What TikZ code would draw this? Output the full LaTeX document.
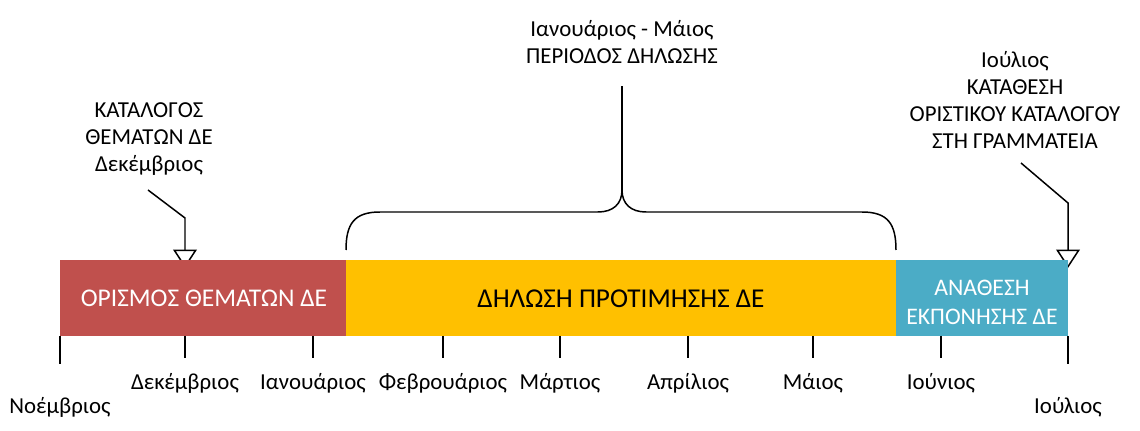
\documentclass[tikz,border=0pt]{standalone}
\usepackage{fontspec}
\setmainfont{Carlito}
\usetikzlibrary{arrows.meta}
\definecolor{orismos}{HTML}{C0504D}
\definecolor{dilosi}{HTML}{FFC000}
\definecolor{anathesi}{HTML}{4BACC6}
\tikzset{
  phase/.style={draw=none, minimum height=76*0.2mm, inner sep=0pt, font=\fontsize{14.5}{17}\selectfont},
  month/.style={font=\fontsize{13}{15.5}\selectfont},
  note/.style={align=center, font=\fontsize{13}{15.5}\selectfont},
  callout/.style={line width=0.85pt, -{Triangle[open, width=13.5pt, length=10.5pt]}},
  tick/.style={line width=0.85pt}
}
\begin{document}
\begin{tikzpicture}[x=0.2mm, y=-0.2mm, >=Stealth]
\useasboundingbox (0,0) rectangle (1140,431);
% callouts (drawn first, the bar covers the tips)
\node[note] (katalogos) at (149,139) {ΚΑΤΑΛΟΓΟΣ\\ΘΕΜΑΤΩΝ ΔΕ\\Δεκέμβριος};
\coordinate (k1) at (185,218);
\coordinate (k2) at (185,268);
\draw[callout] (148,190) -- (k1) -- (k2);
\node[note] (katathesi) at (1015,100) {Ιούλιος\\ΚΑΤΑΘΕΣΗ\\ΟΡΙΣΤΙΚΟΥ ΚΑΤΑΛΟΓΟΥ\\ΣΤΗ ΓΡΑΜΜΑΤΕΙΑ};
\coordinate (t1) at (1068,203);
\coordinate (t2) at (1068,268);
\draw[callout] (1021,163) -- (t1) -- (t2);
% the three phases
\fill[orismos] (60,260) rectangle (346,336);
\fill[dilosi] (346,260) rectangle (896,336);
\fill[anathesi] (896,260) rectangle (1068,336);
\node[phase, text=white] (p1) at (204,298) {ΟΡΙΣΜΟΣ ΘΕΜΑΤΩΝ ΔΕ};
\node[phase, font=\fontsize{15.5}{18}\selectfont] (p2) at (621,299) {ΔΗΛΩΣΗ ΠΡΟΤΙΜΗΣΗΣ ΔΕ};
\node[phase, text=white, align=center, font=\fontsize{13.5}{16.5}\selectfont] (p3) at (982,302) {ΑΝΑΘΕΣΗ\\ΕΚΠΟΝΗΣΗΣ ΔΕ};
% brace
\node[note] (period) at (622,42) {Ιανουάριος - Μάιος\\ΠΕΡΙΟΔΟΣ ΔΗΛΩΣΗΣ};
\coordinate (apex) at (622,190);
\draw[line width=0.85pt] (346,250) .. controls (346,224) and (354,212) .. (380,212) -- (598,212)
  .. controls (613,212) and (622,204) .. (apex)
  .. controls (622,204) and (631,212) .. (646,212) -- (862,212)
  .. controls (888,212) and (896,224) .. (896,250);
\draw[line width=0.85pt, shorten >=16*0.2mm] (apex) -- (period.south);
% months
\draw[tick] (60,336) -- (60,364);
\node[month] (nov) at (60,407) {Νοέμβριος};
\draw[tick] (1068,336) -- (1068,364);
\node[month] (iou) at (1068,407) {Ιούλιος};
\foreach \x/\m [count=\i] in {185/Δεκέμβριος, 313/Ιανουάριος, 443/Φεβρουάριος, 560/Μάρτιος,
    688/Απρίλιος, 813/Μάιος, 941/Ιούνιος} {
  \draw[tick] (\x,336) -- (\x,358);
  \node[month] (m\i) at (\x,383) {\m};
}
\end{tikzpicture}
\end{document}
